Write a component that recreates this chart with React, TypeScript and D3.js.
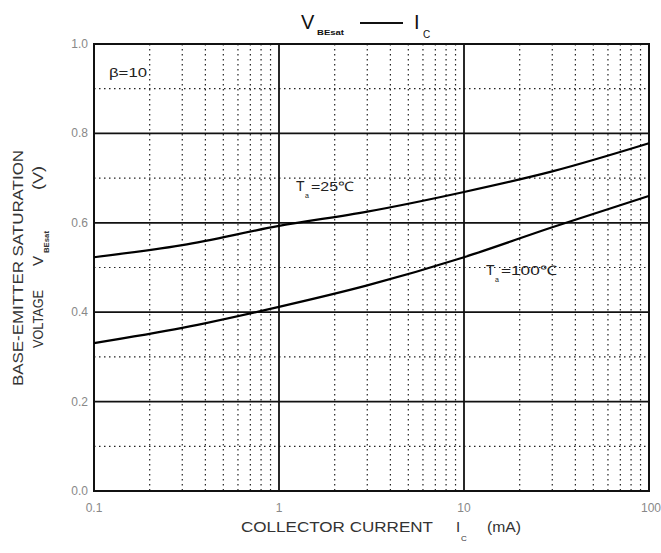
import React from "react";
import * as d3 from "d3";

const currents25 = [0.1, 0.3, 1, 3, 10, 30, 100];
const volts25 = [0.523, 0.55, 0.593, 0.625, 0.669, 0.715, 0.778];
const currents100 = [0.1, 0.3, 1, 3, 10, 30, 100];
const volts100 = [0.331, 0.365, 0.412, 0.46, 0.523, 0.59, 0.66];
const xTickLabels = ["0.1", "1", "10", "100"];
const xTickValues = [0.1, 1, 10, 100];
const yTickValues = [0, 0.2, 0.4, 0.6, 0.8, 1.0];

const W = 661, H = 553;
const L = 94, R = 649, T = 44, B = 491;

export default function App() {
  const x = d3.scaleLog().domain([0.1, 100]).range([L, R]);
  const y = d3.scaleLinear().domain([0, 1]).range([B, T]);
  const line = d3.line<[number, number]>().x(d => x(d[0])).y(d => y(d[1])).curve(d3.curveMonotoneX);
  const d25 = line(currents25.map((c, i) => [c, volts25[i]] as [number, number]));
  const d100 = line(currents100.map((c, i) => [c, volts100[i]] as [number, number]));

  const minorX: number[] = [];
  [0.1, 1, 10].forEach(dec => { for (let k = 2; k <= 9; k++) minorX.push(dec * k); });
  const minorY = [0.1, 0.3, 0.5, 0.7, 0.9];
  const font = "'Liberation Sans', Arial, sans-serif";
  const txt = "#333";

  return (
    <svg width={W} height={H} style={{ position: "absolute", left: 0, top: 0, background: "#fff" }} fontFamily={font}>
      <rect x={0} y={0} width={W} height={H} fill="#fff" />
      {minorX.map(v => (
        <line key={"mx" + v} x1={x(v)} x2={x(v)} y1={T} y2={B} stroke="#222" strokeWidth={1.2} strokeDasharray="1.5,3.5" />
      ))}
      {minorY.map(v => (
        <line key={"my" + v} x1={L} x2={R} y1={y(v)} y2={y(v)} stroke="#222" strokeWidth={1.2} strokeDasharray="1.5,3.5" />
      ))}
      {xTickValues.map(v => (
        <line key={"Mx" + v} x1={x(v)} x2={x(v)} y1={T} y2={B} stroke="#111" strokeWidth={1.8} />
      ))}
      {yTickValues.map(v => (
        <line key={"My" + v} x1={L} x2={R} y1={y(v)} y2={y(v)} stroke="#111" strokeWidth={1.8} />
      ))}
      <rect x={L} y={T} width={R - L} height={B - T} fill="none" stroke="#111" strokeWidth={2} />
      <path d={d25 || ""} fill="none" stroke="#000" strokeWidth={2.2} />
      <path d={d100 || ""} fill="none" stroke="#000" strokeWidth={2.2} />

      {yTickValues.map(v => (
        <text key={"yl" + v} x={L - 6} y={y(v) + 4} textAnchor="end" fontSize={12} fill="#888">{v.toFixed(1)}</text>
      ))}
      {xTickValues.map((v, i) => (
        <text key={"xl" + v} x={x(v) + (i === 3 ? 2 : 0)} y={512} textAnchor="middle" fontSize={12} fill="#888">{xTickLabels[i]}</text>
      ))}

      {/* title */}
      <text x={301} y={29} fontSize={20} fill="#111">V</text>
      <text x={317} y={35} fontSize={8} fontWeight="bold" fill="#111" textLength={27} lengthAdjust="spacingAndGlyphs">BEsat</text>
      <line x1={360} x2={403} y1={23} y2={23} stroke="#111" strokeWidth={2} />
      <text x={414} y={29} fontSize={20} fill="#111">I</text>
      <text x={423} y={38} fontSize={10} fill="#111">C</text>

      {/* annotations */}
      <text x={109} y={77} fontSize={13} fill="#222" textLength={38} lengthAdjust="spacingAndGlyphs">β=10</text>
      <text x={296} y={191} fontSize={14} fill="#222">T</text>
      <text x={305} y={198} fontSize={7} fill="#222">a</text>
      <text x={311} y={191} fontSize={13} fill="#222" textLength={43} lengthAdjust="spacingAndGlyphs">=25℃</text>
      <text x={486} y={275} fontSize={14} fill="#222">T</text>
      <text x={495} y={282} fontSize={7} fill="#222">a</text>
      <text x={501} y={275} fontSize={13} fill="#222" textLength={56} lengthAdjust="spacingAndGlyphs">=100℃</text>

      {/* x label */}
      <text x={241} y={532} fontSize={15} fill={txt} textLength={192} lengthAdjust="spacingAndGlyphs">COLLECTOR CURRENT</text>
      <text x={456} y={532} fontSize={15} fill={txt}>I</text>
      <text x={461} y={541} fontSize={8} fill={txt}>C</text>
      <text x={487} y={532} fontSize={14} fill={txt} textLength={34} lengthAdjust="spacingAndGlyphs">(mA)</text>

      {/* y label */}
      <g transform="translate(23,386) rotate(-90)">
        <text x={0} y={0} fontSize={15} fill={txt} textLength={236} lengthAdjust="spacingAndGlyphs">BASE-EMITTER SATURATION</text>
      </g>
      <g transform="translate(43,348) rotate(-90)">
        <text x={0} y={0} fontSize={15} fill={txt} textLength={58} lengthAdjust="spacingAndGlyphs">VOLTAGE</text>
        <text x={82} y={0} fontSize={15} fill={txt}>V</text>
        <text x={95} y={6} fontSize={7} fontWeight="bold" fill={txt} textLength={22} lengthAdjust="spacingAndGlyphs">BEsat</text>
        <text x={158} y={0} fontSize={14} fill={txt} textLength={24} lengthAdjust="spacingAndGlyphs">(V)</text>
      </g>
    </svg>
  );
}
